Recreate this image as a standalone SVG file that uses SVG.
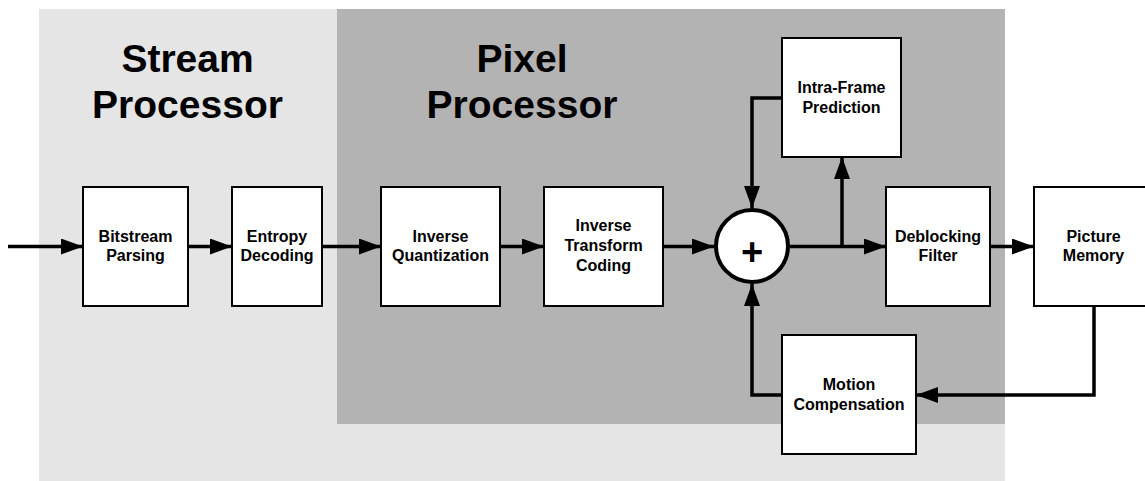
<svg xmlns="http://www.w3.org/2000/svg" width="1145" height="481" viewBox="0 0 1145 481">
  <style>
    .box { fill: #ffffff; stroke: #000000; stroke-width: 2; }
    .lbl { font-family: "Liberation Sans", Arial, sans-serif; font-weight: bold; font-size: 16px; text-anchor: middle; fill: #000000; }
    .title { font-family: "Liberation Sans", Arial, sans-serif; font-weight: bold; font-size: 39px; text-anchor: middle; fill: #000000; }
    .wire { fill: none; stroke: #000000; stroke-width: 3.5; stroke-linejoin: miter; stroke-linecap: butt; }
  </style>
  <defs>
    <marker id="arrow" markerUnits="userSpaceOnUse" markerWidth="22" markerHeight="16" viewBox="0 0 22 16" refX="22" refY="8" orient="auto">
      <path d="M0,0 L22,8 L0,16 Z" fill="#000000"/>
    </marker>
  </defs>

  <!-- processor regions -->
  <g id="regions">
    <rect x="39" y="9" width="966" height="472" fill="#e5e5e5"/>
    <rect x="337" y="9" width="668" height="415" fill="#b3b3b3"/>
    <text class="title" x="187.5" y="72">Stream</text>
    <text class="title" x="187.5" y="118">Processor</text>
    <text class="title" x="522" y="72">Pixel</text>
    <text class="title" x="522" y="118">Processor</text>
  </g>

  <!-- connectors -->
  <g id="connectors">
    <path class="wire" d="M8,246.5 H83" marker-end="url(#arrow)"/>
    <path class="wire" d="M188,246.5 H232" marker-end="url(#arrow)"/>
    <path class="wire" d="M322,246.5 H381" marker-end="url(#arrow)"/>
    <path class="wire" d="M500,246.5 H544" marker-end="url(#arrow)"/>
    <path class="wire" d="M663,246.5 H714" marker-end="url(#arrow)"/>
    <path class="wire" d="M790,246.5 H886" marker-end="url(#arrow)"/>
    <path class="wire" d="M842,246.5 V157" marker-end="url(#arrow)"/>
    <path class="wire" d="M782,98 H752 V208" marker-end="url(#arrow)"/>
    <path class="wire" d="M990,246.5 H1034" marker-end="url(#arrow)"/>
    <path class="wire" d="M1094,306 V395 H916" marker-end="url(#arrow)"/>
    <path class="wire" d="M782,395 H752 V284" marker-end="url(#arrow)"/>
  </g>

  <g id="bitstream-parsing">
    <rect class="box" x="83" y="187" width="105" height="119"/>
    <text class="lbl" x="135.5" y="242">Bitstream</text>
    <text class="lbl" x="135.5" y="261">Parsing</text>
  </g>

  <g id="entropy-decoding">
    <rect class="box" x="232" y="187" width="90" height="119"/>
    <text class="lbl" x="277" y="242">Entropy</text>
    <text class="lbl" x="277" y="261">Decoding</text>
  </g>

  <g id="inverse-quantization">
    <rect class="box" x="381" y="187" width="119" height="119"/>
    <text class="lbl" x="440.5" y="242">Inverse</text>
    <text class="lbl" x="440.5" y="261">Quantization</text>
  </g>

  <g id="inverse-transform">
    <rect class="box" x="544" y="187" width="119" height="119"/>
    <text class="lbl" x="603.5" y="231">Inverse</text>
    <text class="lbl" x="603.5" y="251">Transform</text>
    <text class="lbl" x="603.5" y="271">Coding</text>
  </g>

  <g id="adder">
    <circle cx="752" cy="246" r="36" fill="#ffffff" stroke="#000000" stroke-width="4"/>
    <text x="752" y="265" font-family="'Liberation Sans', Arial, sans-serif" font-weight="bold" font-size="38" text-anchor="middle">+</text>
  </g>

  <g id="intra-prediction">
    <rect class="box" x="782" y="38" width="119" height="119"/>
    <text class="lbl" x="841.5" y="93">Intra-Frame</text>
    <text class="lbl" x="841.5" y="113">Prediction</text>
  </g>

  <g id="deblocking-filter">
    <rect class="box" x="886" y="187" width="104" height="119"/>
    <text class="lbl" x="938" y="242">Deblocking</text>
    <text class="lbl" x="938" y="261">Filter</text>
  </g>

  <g id="picture-memory">
    <rect class="box" x="1034" y="187" width="119" height="119"/>
    <text class="lbl" x="1093.5" y="242">Picture</text>
    <text class="lbl" x="1093.5" y="261">Memory</text>
  </g>

  <g id="motion-compensation">
    <rect class="box" x="782" y="335" width="134" height="119"/>
    <text class="lbl" x="849" y="390">Motion</text>
    <text class="lbl" x="849" y="410">Compensation</text>
  </g>
</svg>
